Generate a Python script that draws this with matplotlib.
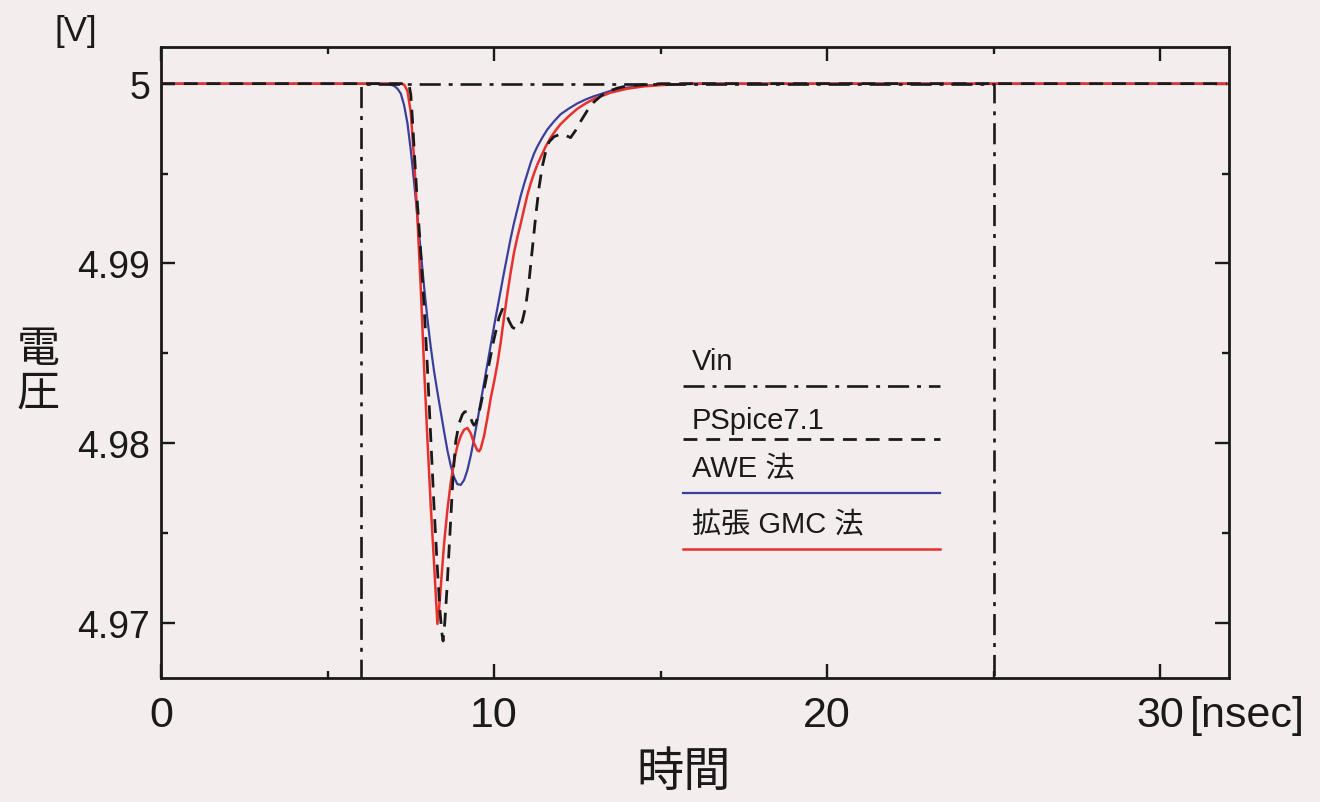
import matplotlib
matplotlib.use("Agg")
import matplotlib.pyplot as plt
from matplotlib.ticker import MultipleLocator
from matplotlib.lines import Line2D

# ---------------- data ----------------
vin_t = [0, 6.0, 6.0, 25.0, 25.0, 32]
vin_v = [0, 0, 5.0, 5.0, 0, 0]

awe_t = [0, 6.8, 7.0, 7.1, 7.2, 7.3, 7.4, 7.5, 7.6, 7.7, 7.8, 7.9, 8.0, 8.1, 8.2,
         8.3, 8.4, 8.5, 8.6, 8.7, 8.8, 8.9, 9.0, 9.1, 9.2, 9.3, 9.4, 9.5, 9.6, 9.7,
         9.8, 9.9, 10.0, 10.1, 10.2, 10.3, 10.4, 10.5, 10.6, 10.7, 10.8, 10.9, 11.0,
         11.1, 11.2, 11.3, 11.45, 11.6, 11.8, 12.0, 12.25, 12.5, 12.75, 13.0, 13.5,
         14.0, 14.5, 15.0, 16.0, 32]
awe_v = [5.0, 5.0, 4.99988, 4.99972, 4.99945, 4.99880, 4.99780, 4.99630, 4.99450,
         4.99260, 4.99065, 4.98870, 4.98690, 4.98535, 4.98400, 4.98285, 4.98175,
         4.98065, 4.97960, 4.97875, 4.97810, 4.97772, 4.97768, 4.97795, 4.97850,
         4.97930, 4.98025, 4.98125, 4.98230, 4.98335, 4.98440, 4.98545, 4.98650,
         4.98750, 4.98850, 4.98950, 4.99045, 4.99140, 4.99225, 4.99300, 4.99375,
         4.99440, 4.99500, 4.99560, 4.99610, 4.99650, 4.99700, 4.99745, 4.99790,
         4.99830, 4.99862, 4.99890, 4.99912, 4.99930, 4.99960, 4.99978, 4.99988,
         4.99995, 5.0, 5.0]

gmc_t = [0, 7.2, 7.3, 7.4, 7.5, 7.6, 7.7, 7.8, 7.9, 8.0, 8.1, 8.2, 8.25, 8.3, 8.35,
         8.4, 8.5, 8.6, 8.7, 8.8, 8.9, 9.0, 9.1, 9.2, 9.3, 9.4, 9.5, 9.55, 9.6, 9.7,
         9.8, 9.9, 10.0, 10.1, 10.2, 10.3, 10.4, 10.5, 10.6, 10.7, 10.8, 10.9, 11.0,
         11.1, 11.2, 11.3, 11.4, 11.55, 11.7, 11.85, 12.0, 12.25, 12.5, 12.75, 13.0,
         13.5, 14.0, 14.5, 15.0, 16.0, 32]
gmc_v = [5.0, 5.0, 4.99995, 4.99960, 4.99840, 4.99580, 4.99250, 4.98860, 4.98420,
         4.98020, 4.97650, 4.97330, 4.97160, 4.96995, 4.97080, 4.97200, 4.97440,
         4.97630, 4.97780, 4.97900, 4.97985, 4.98040, 4.98075, 4.98085, 4.98055,
         4.98000, 4.97960, 4.97955, 4.97970, 4.98040, 4.98140, 4.98250, 4.98340,
         4.98440, 4.98560, 4.98700, 4.98830, 4.98950, 4.99060, 4.99145, 4.99220,
         4.99300, 4.99380, 4.99445, 4.99500, 4.99550, 4.99590, 4.99650, 4.99700,
         4.99740, 4.99775, 4.99820, 4.99860, 4.99890, 4.99915, 4.99950, 4.99972,
         4.99985, 4.99992, 5.0, 5.0]

psp_t = [0, 7.4, 7.45, 7.5, 7.55, 7.6, 7.7, 7.8, 7.9, 8.0, 8.1, 8.2, 8.3, 8.38,
         8.43, 8.47, 8.52, 8.58, 8.68, 8.78, 8.85, 8.95, 9.05, 9.12, 9.19, 9.25,
         9.3, 9.35, 9.4, 9.45, 9.55, 9.7, 9.85, 10.0, 10.15, 10.25, 10.35, 10.45,
         10.55, 10.65, 10.75, 10.85, 10.95, 11.05, 11.15, 11.25, 11.35, 11.45,
         11.55, 11.65, 11.8, 12.0, 12.15, 12.3, 12.45, 12.6, 12.8, 13.0, 13.2,
         13.4, 13.7, 14.0, 15.0, 32]
psp_v = [5.0, 5.0, 4.99990, 4.99940, 4.99800, 4.99640, 4.99330, 4.99060, 4.98760,
         4.98420, 4.98030, 4.97640, 4.97300, 4.97060, 4.96950, 4.96900, 4.97000,
         4.97170, 4.97510, 4.97850, 4.98010, 4.98110, 4.98160, 4.98175, 4.98175,
         4.98160, 4.98140, 4.98115, 4.98100, 4.98110, 4.98170, 4.98300, 4.98440,
         4.98580, 4.98700, 4.98745, 4.98730, 4.98680, 4.98645, 4.98635, 4.98645,
         4.98680, 4.98760, 4.98900, 4.99080, 4.99260, 4.99420, 4.99540, 4.99620,
         4.99675, 4.99705, 4.99720, 4.99712, 4.99700, 4.99740, 4.99790, 4.99850,
         4.99898, 4.99930, 4.99955, 4.99975, 4.99988, 5.0, 5.0]

legend_labels = ["Vin", "PSpice7.1", "AWE 法", "拡張 GMC 法"]
x_ticks = [0, 10, 20, 30]
y_ticks = [4.97, 4.98, 4.99, 5.0]
y_tick_labels = ["4.97", "4.98", "4.99", "5"]

# ---------------- style ----------------
BG = "#f3eded"
INK = "#1a1a1a"
BLUE = "#3b3f9c"
RED = "#e8302c"
JP = ["Liberation Sans", "Noto Sans CJK JP"]
VIN_LS = (0, (8, 3, 1.5, 3))
PSP_LS = (0, (5, 3.2))

fig = plt.figure(figsize=(13.2, 8.03), dpi=100, facecolor=BG)
ax = fig.add_axes([0.122, 0.1544, 0.809, 0.7856])
ax.set_facecolor(BG)

ax.plot(awe_t, awe_v, color=BLUE, lw=1.6, zorder=2)
ax.plot(gmc_t, gmc_v, color=RED, lw=1.8, zorder=3)
ax.plot(psp_t, psp_v, color=INK, lw=2.0, ls=PSP_LS, zorder=4)
ax.plot(vin_t, vin_v, color=INK, lw=1.9, ls=VIN_LS, zorder=5)

ax.set_xlim(0, 32.07)
ax.set_ylim(4.96694, 5.00203)

ax.xaxis.set_minor_locator(MultipleLocator(5))
ax.yaxis.set_minor_locator(MultipleLocator(0.005))
ax.set_xticks(x_ticks)
ax.set_yticks(y_ticks)
ax.set_yticklabels(y_tick_labels)
ax.tick_params(which="both", direction="in", top=True, right=True, width=1.7, colors=INK)
ax.tick_params(which="major", length=10)
ax.tick_params(which="minor", length=5)
ax.tick_params(axis="y", which="major", labelsize=27, pad=8)
ax.tick_params(axis="x", which="major", labelsize=31, pad=12)
for lab in ax.get_yticklabels() + ax.get_xticklabels():
    lab.set_family(["Liberation Sans"])
for s in ax.spines.values():
    s.set_linewidth(2.0)
    s.set_color(INK)

# custom legend: label above a long sample line
styles = [dict(color=INK, lw=1.9, ls=VIN_LS),
          dict(color=INK, lw=2.0, ls=PSP_LS),
          dict(color=BLUE, lw=1.6, ls="-"),
          dict(color=RED, lw=1.8, ls="-")]
text_y = [0.502, 0.409, 0.333, 0.244]
line_y = [0.463, 0.379, 0.293, 0.204]
for lab, st, ty, ly in zip(legend_labels, styles, text_y, line_y):
    ax.text(0.497, ty, lab, transform=ax.transAxes, fontsize=21, family=JP,
            va="center", ha="left", color=INK)
    ax.add_line(Line2D([0.489, 0.729], [ly, ly], transform=ax.transAxes, **st))

# axis labels
fig.text(76 / 1320, 1 - 32 / 803, "[V]", fontsize=25, family=["Liberation Sans"],
         ha="center", va="center", color=INK)
fig.text(38 / 1320, 1 - 372 / 803, "電\n圧", fontsize=31, family=["Noto Sans CJK JP"],
         ha="center", va="center", linespacing=1.0, color=INK)
fig.text(1305 / 1320, 1 - 716 / 803, "[nsec]", fontsize=31, family=["Liberation Sans"],
         ha="right", va="center", color=INK)
fig.text(684 / 1320, 1 - 773 / 803, "時間", fontsize=34, family=["Noto Sans CJK JP"],
         ha="center", va="center", color=INK)

fig.savefig("out.png", dpi=100, facecolor=BG)
